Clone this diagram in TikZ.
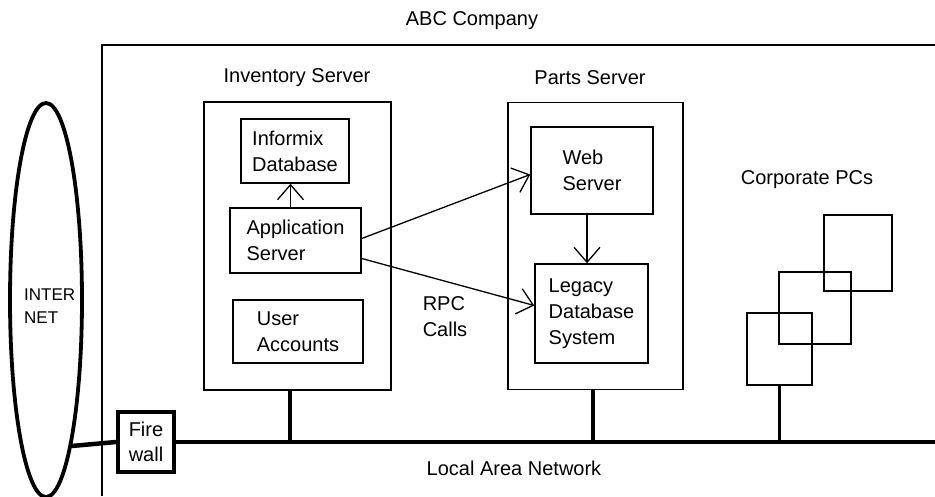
\documentclass[tikz,border=0pt]{standalone}
\usepackage{fontspec}
\setmainfont{Liberation Sans}
\usetikzlibrary{arrows.meta,shapes.geometric,calc}

\tikzset{
  box/.style={draw, rectangle, line width=1.5pt, inner sep=0pt, align=left,
              font=\fontsize{20}{26}\selectfont},
  txt/.style={inner sep=0pt, align=left, font=\fontsize{20}{26}\selectfont},
  flow/.style={line width=1.3pt, -{Straight Barb[length=15pt,width=26pt,line width=1.3pt]}},
  wire/.style={line width=4.5pt},
  heavy/.style={line width=3.8pt},
}

\begin{document}
\begin{tikzpicture}[x=1pt,y=-1pt]
\useasboundingbox (0,0) rectangle (935,496);

% company boundary (open to the right and bottom)
\draw[line width=1.5pt] (102,496) -- (102,45) -- (935,45);
\node[txt] (abc) at (472,21) {ABC Company};

% internet cloud
\node[heavy, draw, ellipse, minimum width=72pt, minimum height=394pt, inner sep=0pt] (inet) at (46,300) {};
\node[txt, anchor=west, font=\fontsize{17}{23}\selectfont] (inetlabel) at (24,306) {INTER\\NET};

% LAN backbone and firewall
\coordinate (lanR) at (935,441);
\node[heavy, draw, rectangle, fill=white, minimum width=56pt, minimum height=60pt, inner sep=0pt,
      align=left, font=\fontsize{20}{25}\selectfont] (fw) at (146,442) {Fire\\wall};
\draw[wire] (inet.-80) -- (fw.west);
\draw[wire] (fw.east) -- (fw.east -| lanR);
\node[txt] (lanlabel) at (514,468) {Local Area Network};

% inventory server
\node[txt] (invlabel) at (297,78) {Inventory Server};
\node[box, minimum width=187pt, minimum height=288pt] (inv) at (297.5,246) {};
\node[box, minimum width=108pt, minimum height=64pt] (ifx) at (295,151) {Informix\\Database};
\node[box, minimum width=131pt, minimum height=65pt] (app) at (295.5,240.5) {Application\\Server};
\node[box, minimum width=130pt, minimum height=63pt] (usr) at (298,331.5) {User\\Accounts};
\draw[flow] ([xshift=-5pt]app.north) -- ([xshift=-5pt]app.north |- ifx.south);

% parts server
\node[txt] (partslabel) at (590,78) {Parts Server};
\node[box, minimum width=175pt, minimum height=287pt] (parts) at (595.5,246) {};
\node[box, minimum width=122pt, minimum height=87pt] (web) at (592,170.5) {Web\\Server};
\node[box, minimum width=113pt, minimum height=99pt] (leg) at (591.5,313.5) {Legacy\\Database\\System};
\draw[flow] ([xshift=-5pt]web.south) -- ([xshift=-5pt]web.south |- leg.north);

% RPC calls between the servers
\draw[flow] ([yshift=2pt]app.east) -- ([yshift=-4pt]web.west);
\draw[flow] ([yshift=-18pt]app.east) -- ([yshift=8pt]leg.west);
\node[txt] (rpc) at (445,317) {RPC\\Calls};

% corporate PCs
\node[txt] (pclabel) at (807,180) {Corporate PCs};
\node[box, minimum width=68pt, minimum height=76pt] (pc1) at (858,253) {};
\node[box, minimum width=72pt, minimum height=72pt] (pc2) at (815,308) {};
\node[box, minimum width=65pt, minimum height=72pt] (pc3) at (779.5,349) {};

% drops onto the LAN
\draw[heavy] ([xshift=-7.5pt]inv.south) -- ([xshift=-7.5pt]inv.south |- lanR);
\draw[heavy] ([xshift=-2.5pt]parts.south) -- ([xshift=-2.5pt]parts.south |- lanR);
\draw[heavy] (pc3.south) -- (pc3.south |- lanR);
\end{tikzpicture}
\end{document}
